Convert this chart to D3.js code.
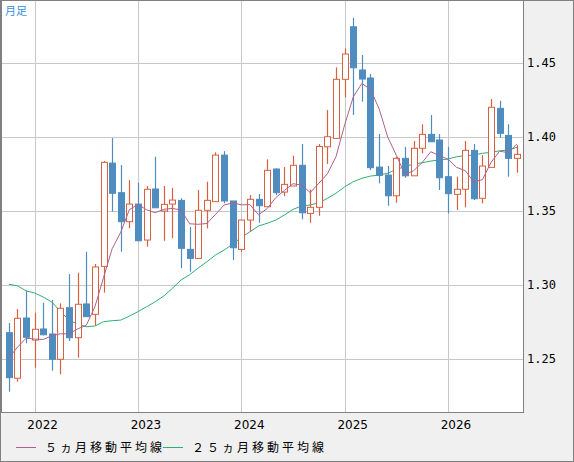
<!DOCTYPE html>
<html><head><meta charset="utf-8">
<script src="https://cdn.jsdelivr.net/npm/d3@7"></script>
<style>body{margin:0;background:#f0f0f0}svg{display:block}</style>
</head><body><svg id="c" width="574" height="462"></svg>
<script>
const months = ["2021-10","2021-11","2021-12","2022-01","2022-02","2022-03","2022-04","2022-05","2022-06","2022-07","2022-08","2022-09","2022-10","2022-11","2022-12","2023-01","2023-02","2023-03","2023-04","2023-05","2023-06","2023-07","2023-08","2023-09","2023-10","2023-11","2023-12","2024-01","2024-02","2024-03","2024-04","2024-05","2024-06","2024-07","2024-08","2024-09","2024-10","2024-11","2024-12","2025-01","2025-02","2025-03","2025-04","2025-05","2025-06","2025-07","2025-08","2025-09","2025-10","2025-11","2025-12","2026-01","2026-02","2026-03","2026-04","2026-05","2026-06","2026-07","2026-08","2026-09"];
const open  = [1.2678,1.2370,1.2777,1.2628,1.2703,1.2669,1.2498,1.2847,1.2644,1.2872,1.2802,1.3126,1.3824,1.3624,1.3428,1.3547,1.3304,1.3649,1.3500,1.3547,1.3572,1.3241,1.3180,1.3505,1.3563,1.3878,1.3568,1.3241,1.3439,1.3579,1.3529,1.3784,1.3628,1.3669,1.3809,1.3484,1.3525,1.3934,1.3991,1.4390,1.4745,1.4453,1.4399,1.3797,1.3743,1.3603,1.3856,1.3738,1.3924,1.4018,1.3980,1.3732,1.3613,1.3647,1.3910,1.3586,1.3795,1.4194,1.4011,1.3856];
const high  = [1.2743,1.2838,1.2961,1.2813,1.2880,1.2899,1.2876,1.3074,1.3083,1.3225,1.3142,1.3838,1.3993,1.3811,1.3709,1.3691,1.3669,1.3867,1.3669,1.3657,1.3586,1.3392,1.3642,1.3698,1.3897,1.3905,1.3568,1.3439,1.3608,1.3615,1.3849,1.3788,1.3797,1.3874,1.3953,1.3645,1.3953,1.4182,1.4471,1.4599,1.4806,1.4554,1.4426,1.4020,1.3804,1.3867,1.3934,1.3973,1.4086,1.4149,1.4020,1.3934,1.3732,1.3973,1.3953,1.3878,1.4257,1.4245,1.4086,1.3946];
const low   = [1.2279,1.2347,1.2606,1.2441,1.2660,1.2421,1.2397,1.2622,1.2509,1.2784,1.2728,1.2948,1.3495,1.3225,1.3383,1.3297,1.3259,1.3520,1.3299,1.3316,1.3113,1.3090,1.3180,1.3383,1.3563,1.3552,1.3169,1.3225,1.3360,1.3421,1.3529,1.3608,1.3601,1.3669,1.3444,1.3421,1.3468,1.3818,1.3991,1.4268,1.4149,1.4239,1.3777,1.3687,1.3536,1.3556,1.3725,1.3738,1.3890,1.3968,1.3642,1.3484,1.3507,1.3525,1.3574,1.3552,1.3795,1.3995,1.3732,1.3759];
const close = [1.2374,1.2775,1.2647,1.2701,1.2664,1.2498,1.2843,1.2644,1.2870,1.2786,1.3122,1.3829,1.3620,1.3428,1.3547,1.3299,1.3647,1.3522,1.3545,1.3574,1.3248,1.3180,1.3505,1.3572,1.3878,1.3568,1.3252,1.3439,1.3579,1.3536,1.3775,1.3624,1.3680,1.3809,1.3488,1.3525,1.3936,1.4002,1.4390,1.4561,1.4468,1.4392,1.3793,1.3741,1.3603,1.3856,1.3738,1.3924,1.4018,1.3968,1.3725,1.3617,1.3647,1.3910,1.3583,1.3804,1.4201,1.4025,1.3856,1.3883];
const priorCloses = [1.2406,1.2346,1.2726,1.2678];
const ma25 = [1.3005,1.2995,1.2961,1.2946,1.2919,1.2885,1.2820,1.2763,1.2736,1.2718,1.2723,1.2752,1.2759,1.2763,1.2790,1.2820,1.2853,1.2887,1.2926,1.2978,1.3034,1.3070,1.3115,1.3157,1.3203,1.3236,1.3277,1.3322,1.3360,1.3399,1.3417,1.3439,1.3473,1.3511,1.3534,1.3541,1.3556,1.3586,1.3620,1.3664,1.3698,1.3721,1.3736,1.3743,1.3755,1.3782,1.3799,1.3818,1.3826,1.3838,1.3845,1.3851,1.3867,1.3874,1.3878,1.3890,1.3897,1.3907,1.3912,1.3930];
const yTicks = [1.25,1.30,1.35,1.40,1.45];
const yearLabels = ["2022","2023","2024","2025","2026"];

const svg = d3.select("#c");
const L=1, R=523, T=0, B=412;
const x = d3.scaleLinear().domain([0,59]).range([8.8,516.9]);
const y = d3.scaleLinear().domain([1.2142,1.4926]).range([B,T]);

svg.append("rect").attr("x",0).attr("y",0).attr("width",574).attr("height",462).attr("fill","#f0f0f0");
svg.append("rect").attr("x",L).attr("y",T).attr("width",R-L).attr("height",B-T).attr("fill","#fff");

// grid
svg.append("g").selectAll("line").data(yTicks).join("line")
  .attr("x1",L).attr("x2",R).attr("y1",d=>Math.round(y(d))+0.5).attr("y2",d=>Math.round(y(d))+0.5)
  .attr("stroke","#c8c8c8");
const janIdx = months.map((m,i)=>m.endsWith("-01")?i:-1).filter(i=>i>=0);
svg.append("g").selectAll("line").data(janIdx).join("line")
  .attr("x1",d=>Math.round(x(d))+0.5).attr("x2",d=>Math.round(x(d))+0.5).attr("y1",T).attr("y2",B)
  .attr("stroke","#c8c8c8");

// y labels
svg.append("g").selectAll("text").data(yTicks).join("text")
  .attr("x",527).attr("y",d=>y(d)).attr("dy","0.35em")
  .attr("font-family","DejaVu Sans Mono, monospace").attr("font-size",12).attr("fill","#000")
  .text(d=>d.toFixed(2));
// x labels
svg.append("g").selectAll("text").data(janIdx).join("text")
  .attr("x",d=>x(d)+8).attr("y",429).attr("text-anchor","middle")
  .attr("font-family","DejaVu Sans, sans-serif").attr("font-size",12).attr("fill","#000")
  .text((d,i)=>yearLabels[i]);

// MA lines
const all = priorCloses.concat(close);
const ma5 = close.map((c,i)=>d3.mean(all.slice(i,i+5)));
const line = d3.line().x((d,i)=>x(i)).y(d=>y(d));
svg.append("path").attr("d",line(ma25)).attr("fill","none").attr("stroke","#2eb070").attr("stroke-width",1);

// candles
const data = months.map((m,i)=>({i,o:open[i],h:high[i],l:low[i],c:close[i]}));
const g = svg.append("g");
data.forEach(d=>{
  const up = d.c>=d.o;
  const col = up?"#d9603e":"#4f8cc0";
  const cx = Math.round(x(d.i))+0.5;
  g.append("line").attr("x1",cx).attr("x2",cx).attr("y1",y(d.h)).attr("y2",y(d.l)).attr("stroke",col).attr("stroke-width",1.2);
  const top=y(Math.max(d.o,d.c)), bot=y(Math.min(d.o,d.c));
  g.append("rect").attr("x",cx-3).attr("y",top).attr("width",6).attr("height",Math.max(1,bot-top))
    .attr("fill",up?"#fff":col).attr("stroke",col).attr("stroke-width",1);
});
svg.append("path").attr("d",line(ma5)).attr("fill","none").attr("stroke","#b0608c").attr("stroke-width",1);

// frame
svg.append("rect").attr("x",L+0.5).attr("y",0.5).attr("width",R-L).attr("height",B).attr("fill","none").attr("stroke","#808080");
svg.append("rect").attr("x",0.5).attr("y",0.5).attr("width",573).attr("height",461).attr("fill","none").attr("stroke","#808080");

svg.append("text").attr("x",5).attr("y",15).attr("font-family","Noto Sans CJK JP").attr("font-size",11).attr("fill","#3a8ee0").text("月足");

// legend
const leg=[{t:"５ヵ月移動平均線",c:"#b0608c",x:16},{t:"２５ヵ月移動平均線",c:"#2eb070",x:163}];
leg.forEach(l=>{
  svg.append("line").attr("x1",l.x).attr("x2",l.x+20).attr("y1",447.5).attr("y2",447.5).attr("stroke",l.c);
  svg.append("text").attr("x",l.x+29).attr("y",452).attr("font-family","Noto Sans CJK JP").attr("font-size",12)
    .attr("letter-spacing",3).attr("fill","#000").text(l.t);
});
</script></body></html>
